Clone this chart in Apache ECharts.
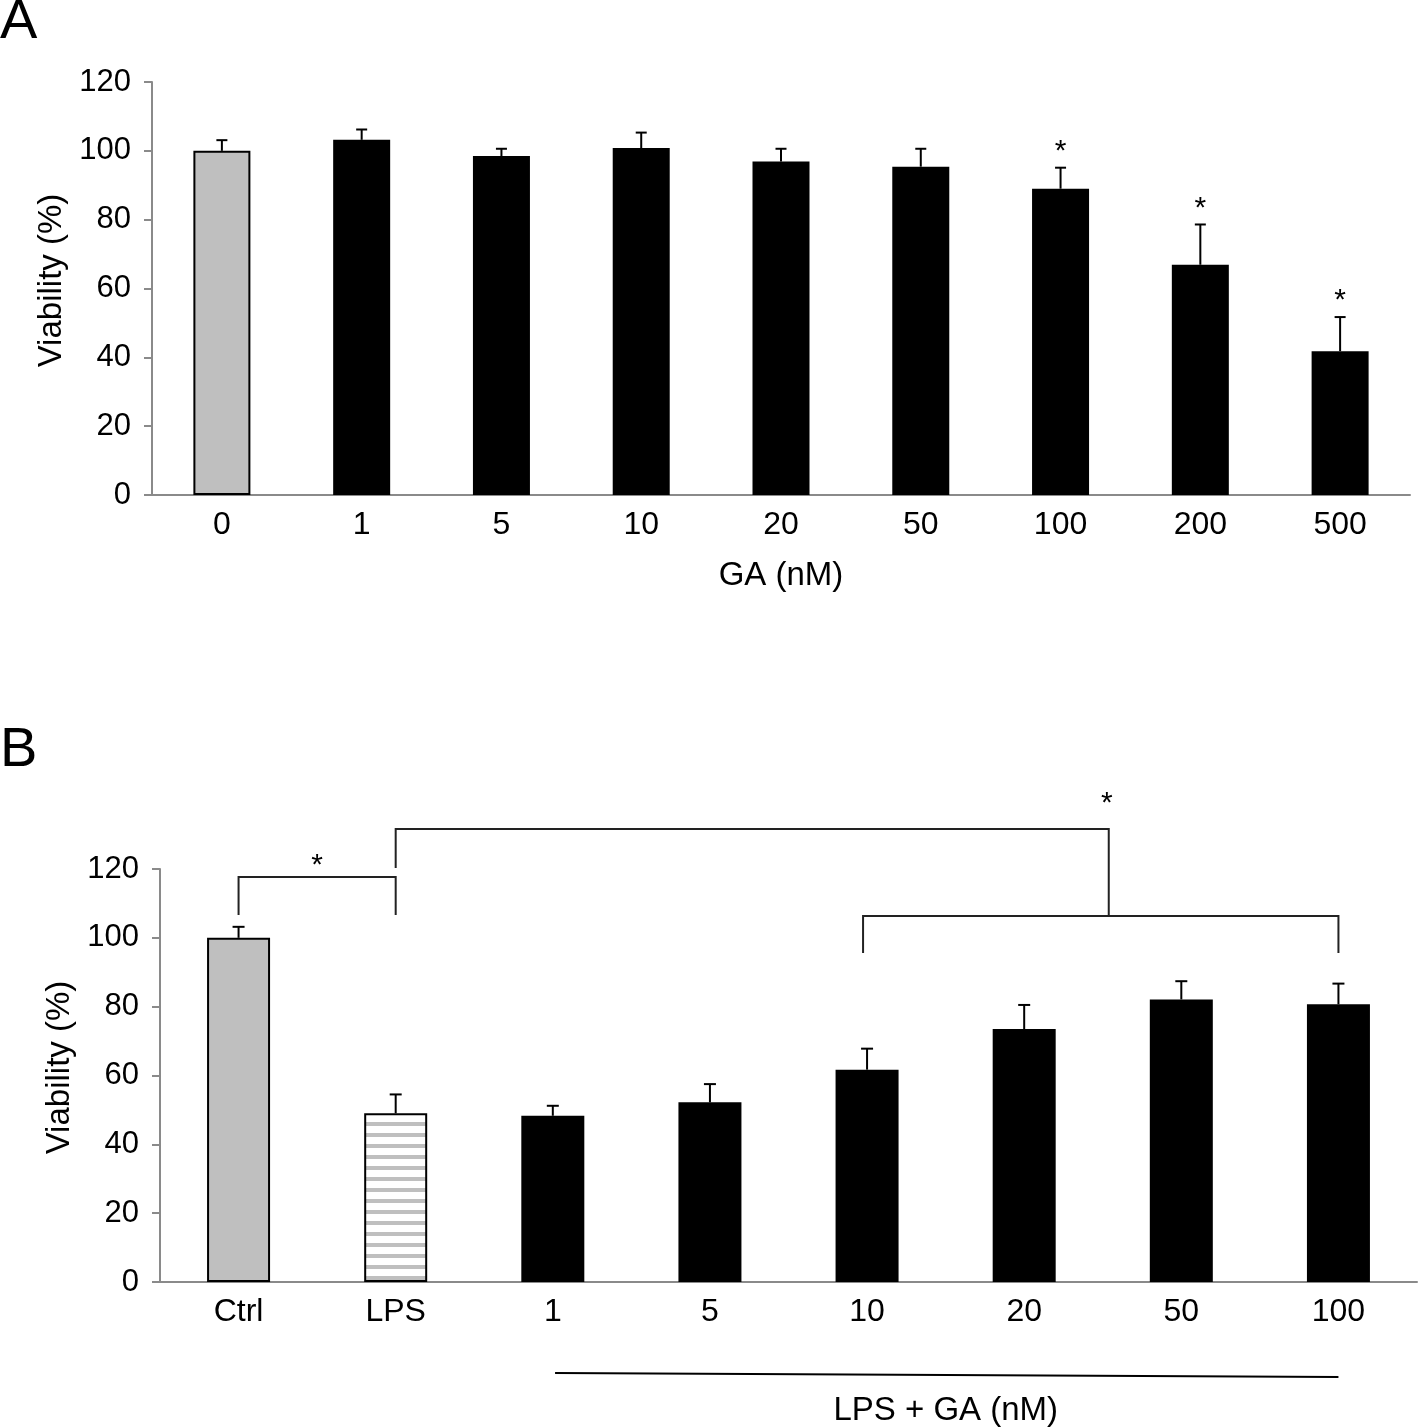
<!DOCTYPE html>
<html><head><meta charset="utf-8">
<script src="https://cdn.jsdelivr.net/npm/echarts@6/dist/echarts.min.js"></script>
<style>html,body{margin:0;padding:0;background:#fff}#c{width:1418px;height:1427px}</style>
</head><body><div id="c"></div>
<script>
// ---------- data ----------
const catsA = ['0', '1', '5', '10', '20', '50', '100', '200', '500'];
const meanA = [100, 103.2, 98.5, 100.8, 96.9, 95.4, 89.0, 66.9, 41.8];
const errA  = [3.1, 3.0, 2.1, 4.5, 3.7, 5.2, 6.1, 11.7, 9.9];
const sigA  = [0, 0, 0, 0, 0, 0, 1, 1, 1];

const catsB = ['Ctrl', 'LPS', '1', '5', '10', '20', '50', '100'];
const meanB = [100, 49.0, 48.3, 52.2, 61.7, 73.5, 82.1, 80.7];
const errB  = [3.2, 5.5, 2.9, 5.3, 6.1, 7.0, 5.3, 6.0];

const yMin = 0, yMax = 120, yStep = 20;
// comparison brackets in panel B (category indices)
const cmpCtrlLps = [0, 1];
const cmpGaGroup = [4, 7];

// ---------- styles ----------
const FONT = 'Liberation Sans, Arial, sans-serif';
const AXIS_COL = '#8a8a8a';
const GRAY = '#bfbfbf';

const pc = document.createElement('canvas');
pc.width = 8; pc.height = 11;
const pctx = pc.getContext('2d');
pctx.fillStyle = '#ffffff'; pctx.fillRect(0, 0, 8, 11);
pctx.fillStyle = GRAY; pctx.fillRect(0, 0, 8, 4);
const stripe = { image: pc, repeat: 'repeat' };

function barStyleA(i) {
  return i === 0 ? { color: GRAY, borderColor: '#000', borderWidth: 2 } : { color: '#000' };
}
function barStyleB(i) {
  if (i === 0) return { color: GRAY, borderColor: '#000', borderWidth: 2 };
  if (i === 1) return { color: stripe, borderColor: '#000', borderWidth: 2 };
  return { color: '#000' };
}

function xAxisCfg(grid, cats, name, nameGap) {
  return {
    type: 'category', gridIndex: grid, data: cats,
    axisLine: { lineStyle: { color: AXIS_COL, width: 2 } },
    axisTick: { length: 8, lineStyle: { color: AXIS_COL, width: 2 } },
    axisLabel: { color: '#000', fontSize: 32, fontFamily: FONT, margin: 14 },
    name: name, nameLocation: 'middle', nameGap: nameGap,
    nameTextStyle: { color: '#000', fontSize: 33, fontFamily: FONT }
  };
}
function yAxisCfg(grid) {
  return {
    type: 'value', gridIndex: grid, min: yMin, max: yMax, interval: yStep,
    axisLine: { show: true, lineStyle: { color: AXIS_COL, width: 2 } },
    axisTick: { show: true, length: 8, lineStyle: { color: AXIS_COL, width: 2 } },
    splitLine: { show: false },
    axisLabel: { color: '#000', fontSize: 31, fontFamily: FONT, margin: 21 },
    name: 'Viability (%)', nameLocation: 'middle', nameRotate: 90, nameGap: 79,
    nameTextStyle: { color: '#000', fontSize: 33, fontFamily: FONT, padding: [0, 0, 0, 16] }
  };
}

function errSeries(axis, means, errs, capW) {
  return {
    type: 'custom', xAxisIndex: axis, yAxisIndex: axis, silent: true, z: 5,
    data: means.map((v, i) => [i, v, v + errs[i]]),
    renderItem: function (params, api) {
      const p0 = api.coord([api.value(0), api.value(1)]);
      const p1 = api.coord([api.value(0), api.value(2)]);
      const st = { stroke: '#000', lineWidth: 2 };
      return { type: 'group', children: [
        { type: 'line', shape: { x1: p0[0], y1: p0[1], x2: p1[0], y2: p1[1] }, style: st },
        { type: 'line', shape: { x1: p1[0] - capW / 2, y1: p1[1], x2: p1[0] + capW / 2, y2: p1[1] }, style: st }
      ]};
    }
  };
}

function starText(x, y) {
  return { type: 'text', x: x, y: y, style: { text: '*', fill: '#000', fontSize: 30, fontFamily: FONT, align: 'center', verticalAlign: 'middle' } };
}

const option = {
  animation: false,
  backgroundColor: '#fff',
  grid: [
    { left: 152, top: 82, width: 1258, height: 413 },
    { left: 160, top: 869, width: 1257, height: 413 }
  ],
  xAxis: [xAxisCfg(0, catsA, 'GA (nM)', 64), xAxisCfg(1, catsB, '', 0)],
  yAxis: [yAxisCfg(0), yAxisCfg(1)],
  graphic: [
    { type: 'text', left: 0, top: -5, style: { text: 'A', fontSize: 56, fontFamily: FONT, fill: '#000' } },
    { type: 'text', left: 0, top: 723, style: { text: 'B', fontSize: 56, fontFamily: FONT, fill: '#000' } }
  ],
  series: [
    { type: 'bar', xAxisIndex: 0, yAxisIndex: 0, barWidth: 57,
      data: meanA.map((v, i) => ({ value: v, itemStyle: barStyleA(i) })) },
    errSeries(0, meanA, errA, 11),
    { // significance stars, panel A
      type: 'custom', xAxisIndex: 0, yAxisIndex: 0, silent: true, z: 6,
      data: meanA.map((v, i) => [i, v + errA[i], sigA[i]]).filter(d => d[2]),
      renderItem: function (params, api) {
        const p = api.coord([api.value(0), api.value(1)]);
        return starText(p[0], p[1] - 16);
      }
    },
    { type: 'bar', xAxisIndex: 1, yAxisIndex: 1, barWidth: 63,
      data: meanB.map((v, i) => ({ value: v, itemStyle: barStyleB(i) })) },
    errSeries(1, meanB, errB, 12),
    { // brackets, stars, group label in panel B
      type: 'custom', xAxisIndex: 1, yAxisIndex: 1, silent: true, z: 6,
      data: [[0]],
      renderItem: function (params, api) {
        const st = { stroke: '#222', lineWidth: 2, fill: null };
        const a = api.coord([cmpCtrlLps[0], 0]);
        const b = api.coord([cmpCtrlLps[1], 0]);
        const c = api.coord([cmpGaGroup[0], 0]);
        const d = api.coord([cmpGaGroup[1], 0]);
        const base = a[1];           // y pixel of value 0
        const mid = (c[0] + d[0]) / 2;
        return { type: 'group', children: [
          { type: 'polyline', shape: { points: [[a[0], base - 367], [a[0], base - 405], [b[0], base - 405], [b[0], base - 367]] }, style: st },
          starText((a[0] + b[0]) / 2, base - 416),
          { type: 'polyline', shape: { points: [[c[0] - 4, base - 329], [c[0] - 4, base - 366], [d[0], base - 366], [d[0], base - 329]] }, style: st },
          { type: 'polyline', shape: { points: [[b[0], base - 414], [b[0], base - 453], [mid + 6, base - 453], [mid + 6, base - 366]] }, style: st },
          starText(mid + 4, base - 478),
          { type: 'line', shape: { x1: c[0] - 312, y1: base + 91, x2: d[0], y2: base + 95 }, style: { stroke: '#000', lineWidth: 2 } },
          { type: 'text', x: (c[0] - 314 + d[0]) / 2, y: base + 129, style: { text: 'LPS + GA (nM)', fill: '#000', fontSize: 33, fontFamily: FONT, align: 'center', verticalAlign: 'middle' } }
        ]};
      }
    }
  ]
};

const chart = echarts.init(document.getElementById('c'));
chart.setOption(option);
</script>
</body></html>
